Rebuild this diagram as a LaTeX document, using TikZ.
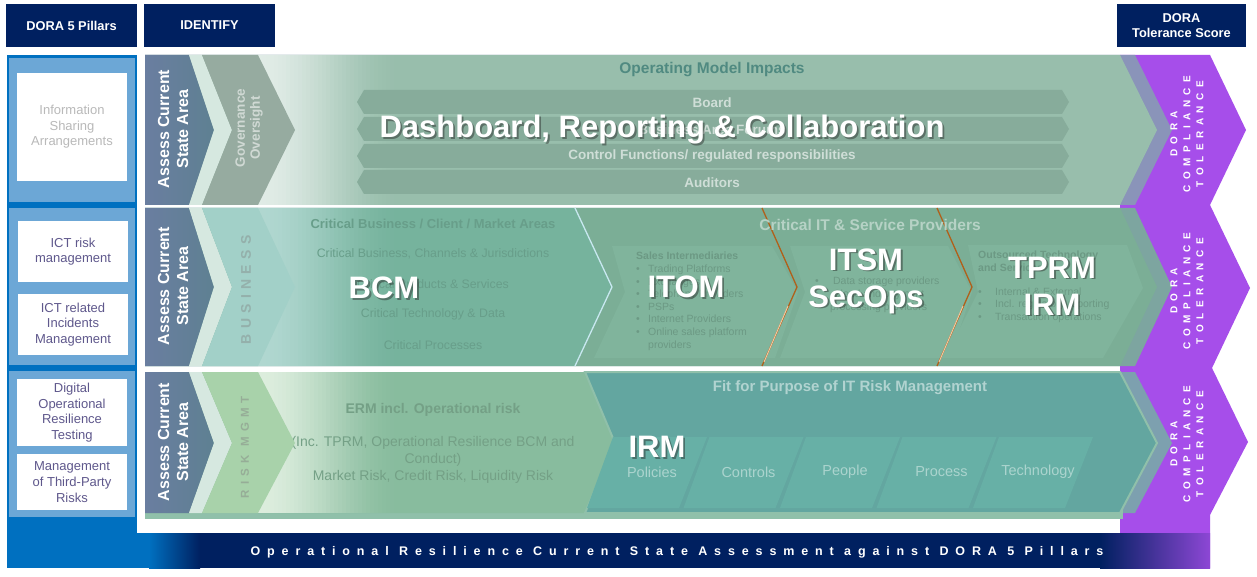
\documentclass[tikz,border=0pt]{standalone}
\usepackage{fontspec}
\setmainfont{Liberation Sans}
\definecolor{navy}{RGB}{0,32,96}
\definecolor{pillar}{RGB}{0,112,192}
\definecolor{pillarlt}{RGB}{108,167,214}
\definecolor{pillartext}{RGB}{95,88,140}
\definecolor{dorapurple}{RGB}{166,78,234}
\definecolor{slatel}{RGB}{106,126,160}
\definecolor{slater}{RGB}{94,128,146}
\definecolor{pale}{RGB}{214,232,224}
\definecolor{govgreen}{RGB}{150,171,160}
\definecolor{opmodel}{RGB}{152,190,172}
\definecolor{opbar}{RGB}{135,172,155}
\definecolor{busteal}{RGB}{162,208,200}
\definecolor{bcmgreen}{RGB}{118,179,157}
\definecolor{itgreen}{RGB}{123,174,150}
\definecolor{itinner}{RGB}{128,180,156}
\definecolor{riskgreen}{RGB}{168,210,170}
\definecolor{ermgreen}{RGB}{136,188,158}
\definecolor{irmteal}{RGB}{99,166,160}
\definecolor{irmedge}{RGB}{144,192,170}
\definecolor{tileteal}{RGB}{103,176,166}
\definecolor{edgeone}{RGB}{138,148,185}
\definecolor{edgetwo}{RGB}{125,165,160}
\definecolor{edgethree}{RGB}{125,160,175}
\definecolor{sepbrown}{RGB}{176,96,26}
\definecolor{seppeach}{RGB}{240,200,160}
\definecolor{seplight}{RGB}{200,232,240}
\colorlet{oplight}{opmodel!30!white}
\colorlet{bcmlight}{busteal!85!white}
\colorlet{ermlight}{riskgreen!40!white}
\newcommand\itm[1][12pt]{\makebox[#1][l]{\textbullet}}
\newcommand\bigtag[3]{%
  \node[bigword,text=black!85,opacity=.45,xshift=1.8pt,yshift=-1.8pt] (#1sh) at (#2) {#3};
  \node[bigword] (#1) at (#2) {#3};}
\newcommand\fadeband[5]{% from colour, to colour, x, top, bottom
  \foreach \i in {0,...,35}{
    \pgfmathsetmacro\mix{100*(3*(\i/35)^2-2*(\i/35)^3)}
    \fill[#2!\mix!#1] (#3+4*\i,#4) rectangle (#3+4*\i+4.6,#5);
  }}
\begin{document}
\begin{tikzpicture}[x=1pt,y=-1pt,
    hdr/.style={fill=navy,text=white,font=\fontsize{12.8}{15}\selectfont\bfseries,align=center,inner sep=0pt,minimum width=131pt,minimum height=43pt},
    pillarbox/.style={fill=white,text=pillartext,font=\fontsize{13}{15.6}\selectfont,align=center,inner sep=0pt,minimum width=110pt},
    assess/.style={rotate=90,text=white,font=\fontsize{16}{19}\selectfont\bfseries,align=center},
    tolerance/.style={rotate=90,text=white,font=\fontsize{10}{13}\selectfont\bfseries\addfontfeatures{LetterSpace=55},align=center},
    barlabel/.style={text=opbar!40!white,font=\fontsize{13.5}{15}\selectfont\bfseries},
    bcmlist/.style={text=black!12!bcmgreen,font=\fontsize{12.3}{14}\selectfont},
    itlist/.style={text=black!12!itgreen,font=\fontsize{10.5}{12.6}\selectfont,align=left,inner sep=0pt,anchor=north west},
    ermlist/.style={text=black!15!ermgreen,font=\fontsize{14}{17}\selectfont,align=center},
    tilelabel/.style={text=tileteal!55!white,font=\fontsize{14.5}{16}\selectfont},
    bigword/.style={text=white,font=\fontsize{31}{37}\selectfont\bfseries,align=center,inner sep=0pt}]
  \useasboundingbox (0,0) rectangle (1257,577);
  \fill[white] (0,0) rectangle (1257,577);
  \fill[dorapurple] (1110,55) -- (1210,55) -- (1246,130) -- (1210,205) -- (1250,288) -- (1212,368) -- (1248,442) -- (1210,515) -- (1210,568) -- (1110,568) -- cycle;
  \fill[navy] (137,533) rectangle (1110,568);
  \fill[pillar] (7,517) rectangle (150,568);
  \shade[left color=pillar,right color=navy] (149,533) rectangle (200,568);
  \shade[left color=navy,right color=dorapurple!85!navy] (1100,533) rectangle (1210,568);
  \fill[white] (137,50) rectangle (1120,533);

  \fill[edgeone] (145,55) -- (1135,55) -- (1172,130) -- (1135,205) -- (145,205) -- cycle;
  \fill[opmodel] (145,55) -- (1120,55) -- (1157,130) -- (1120,205) -- (145,205) -- cycle;
  \fadeband{oplight}{opmodel}{258}{55}{205}
  \node[text=black!25!opmodel!70!teal,font=\fontsize{15.5}{17}\selectfont\bfseries] (opimp) at (712,70) {Operating Model Impacts};
  \foreach \y/\lbl [count=\k] in {90/Board,117/Business Area Forums,144/{Control Functions/ regulated responsibilities},170/Auditors}{
    \fill[opbar] (357,\y+12) -- (364,\y) -- (1062,\y) -- (1069,\y+12) -- (1062,\y+24) -- (364,\y+24) -- cycle;
    \node[barlabel] (bar\k) at (712,\y+12.5) {\lbl};
  }

  \fill[edgetwo] (145,208) -- (1135,208) -- (1172,287) -- (1135,366) -- (145,366) -- cycle;
  \fill[itgreen] (575,208) -- (1120,208) -- (1157,287) -- (1120,366) -- (575,366) -- (612,287) -- cycle;
  \fill[bcmgreen] (145,208) -- (575,208) -- (612,287) -- (575,366) -- (145,366) -- cycle;
  \fadeband{bcmlight}{bcmgreen}{258}{208}{366}
  \fill[itinner] (612,246) -- (772,246) -- (798,292) -- (775,358) -- (594,358) -- (625,292) -- cycle;
  \fill[itinner] (790,246) -- (948,246) -- (972,292) -- (950,358) -- (780,358) -- (805,292) -- cycle;
  \fill[itinner] (968,245) -- (1127,245) -- (1143,288) -- (1103,358) -- (945,358) -- (978,292) -- cycle;
  \draw[seplight,line width=1.3pt] (575,208) -- (612,287) -- (575,366);
  \draw[sepbrown,line width=1.3pt] (762,208) -- (797,287) -- (762,366);
  \draw[seppeach,line width=1pt] (788,306) -- (764,362);
  \draw[sepbrown,line width=1.3pt] (937,208) -- (972,287) -- (937,366);
  \draw[seppeach,line width=1pt] (963,306) -- (939,362);
  \node[bcmlist,font=\fontsize{13}{15}\selectfont\bfseries] (cbarea) at (433,224) {Critical Business / Client / Market Areas};
  \node[bcmlist] (cbchan) at (433,254) {Critical Business, Channels \& Jurisdictions};
  \node[bcmlist] (cbprod) at (433,284) {Critical Products \& Services};
  \node[bcmlist] (cbtech) at (433,314) {Critical Technology \& Data};
  \node[bcmlist] (cbproc) at (433,345) {Critical Processes};
  \node[text=itgreen!55!white,font=\fontsize{15.5}{17}\selectfont\bfseries] (critit) at (870,225) {Critical IT \& Service Providers};
  \node[itlist] (salesint) at (636,252) {\textbf{Sales Intermediaries}\\\itm Trading Platforms\\\itm Exchanges\\\itm Telephony Providers\\\itm PSPs\\\itm Internet Providers\\\itm Online sales platform\\\hspace*{12pt}providers};
  \node[itlist] (storage) at (815,277) {\itm[15pt] Data storage providers\\\itm[15pt] Cloud and payment\\\hspace*{15pt}processing providers};
  \node[itlist] (outsrc) at (978,251) {\textbf{Outsourced Technology}\\\textbf{and Services}\\[11pt]\itm[17pt]Internal \& External\\\itm[17pt]Incl. regulatory reporting\\\itm[17pt]Transaction operations};

  \fill[edgethree] (145,372) -- (1135,372) -- (1172,443) -- (1135,513) -- (145,513) -- cycle;
  \fill[irmedge] (145,505) rectangle (1123,519);
  \fill[ermgreen] (145,372) -- (585,372) -- (615,443) -- (585,513) -- (145,513) -- cycle;
  \fadeband{ermlight}{ermgreen}{258}{372}{513}
  \fill[irmteal,draw=irmedge,line width=2pt] (585,372) -- (1120,372) -- (1157,443) -- (1120,513) -- (585,513) -- (615,443) -- cycle;
  \foreach \lbl [count=\k from 0] in {Policies,Controls,People,Process,Technology}{
    \fill[tileteal] (613+96.5*\k,437) -- (707+96.5*\k,437) -- (679+96.5*\k,508) -- (587+96.5*\k,508) -- cycle;
    \node[tilelabel] (tile\k) at (652+96.5*\k,472) {\lbl};
  }
  \node[text=black!15!ermgreen,font=\fontsize{14}{16}\selectfont\bfseries] (erm) at (433,410) {ERM incl. Operational risk};
  \node[ermlist] (ermdet) at (433,460) {(Inc. TPRM, Operational Resilience BCM and\\Conduct)\\Market Risk, Credit Risk, Liquidity Risk};
  \node[text=irmteal!50!white,font=\fontsize{15}{17}\selectfont\bfseries] (fitpur) at (850,388) {Fit for Purpose of IT Risk Management};

  \foreach \t/\m/\b/\c [count=\r] in {55/130/205/govgreen,208/287/366/busteal,372/443/513/riskgreen}{
    \shade[left color=slatel,right color=slater] (145,\t) -- (189,\t) -- (214,\m) -- (189,\b) -- (145,\b) -- cycle;
    \fill[pale] (189,\t) -- (202,\t) -- (232,\m) -- (202,\b) -- (189,\b) -- (214,\m) -- cycle;
    \fill[\c] (202,\t) -- (258,\t) -- (295,\m) -- (258,\b) -- (202,\b) -- (232,\m) -- cycle;
    \node[assess] (assess\r) at (173,\m-1) {Assess Current\\State Area};
  }
  \node[rotate=90,text=govgreen!45!white,font=\fontsize{13.5}{15}\selectfont\bfseries,align=center] (gov) at (249,128) {Governance\\Oversight};
  \node[rotate=90,text=busteal!60!gray,font=\fontsize{14}{16}\selectfont\bfseries\addfontfeatures{LetterSpace=38}] (busi) at (246,290) {BUSINESS};
  \node[rotate=90,text=riskgreen!55!gray,font=\fontsize{11.5}{13}\selectfont\bfseries\addfontfeatures{LetterSpace=45}] (riskm) at (245,447) {RISK MGMT};
  \foreach \y [count=\r] in {134,291,444}{
    \node[tolerance] (tol\r) at (1187,\y) {DORA\\COMPLIANCE\\TOLERANCE};
  }

  \fill[pillar] (7,55) rectangle (137,518);
  \fill[pillarlt] (9,58) rectangle (135,202);
  \fill[pillarlt] (9,208) rectangle (135,365);
  \fill[pillarlt] (9,371) rectangle (135,517);
  \node[pillarbox,text=gray!55,minimum height=108pt] (infoshare) at (72,127) {Information\\Sharing\\Arrangements};
  \node[pillarbox,minimum height=61pt] (ictrisk) at (73,251.5) {ICT risk\\management};
  \node[pillarbox,minimum height=61pt] (ictinc) at (73,324.5) {ICT related\\Incidents\\Management};
  \node[pillarbox,minimum height=67pt] (dort) at (72,412.5) {Digital\\Operational\\Resilience\\Testing};
  \node[pillarbox,minimum height=56pt] (tprisk) at (72,482) {Management\\of Third-Party\\Risks};

  \node[hdr] (pillars) at (71.5,25.5) {DORA 5 Pillars};
  \node[hdr] (identify) at (209.5,25.5) {IDENTIFY};
  \node[hdr,minimum width=129pt] (tolscore) at (1181.5,25.5) {DORA\\Tolerance Score};
  \node[text=white,font=\fontsize{12.5}{14}\selectfont\bfseries\addfontfeatures{LetterSpace=55}] (footer) at (677,552) {Operational Resilience Current State Assessment against DORA 5 Pillars};

  \bigtag{dash}{662,130}{Dashboard, Reporting \& Collaboration}
  \bigtag{bcm}{384,288}{BCM}
  \bigtag{itom}{686,287}{ITOM}
  \bigtag{itsm}{866,281}{ITSM\\SecOps}
  \bigtag{tprm}{1052,286}{TPRM\\IRM}
  \bigtag{irm}{657,447}{IRM}
\end{tikzpicture}
\end{document}
